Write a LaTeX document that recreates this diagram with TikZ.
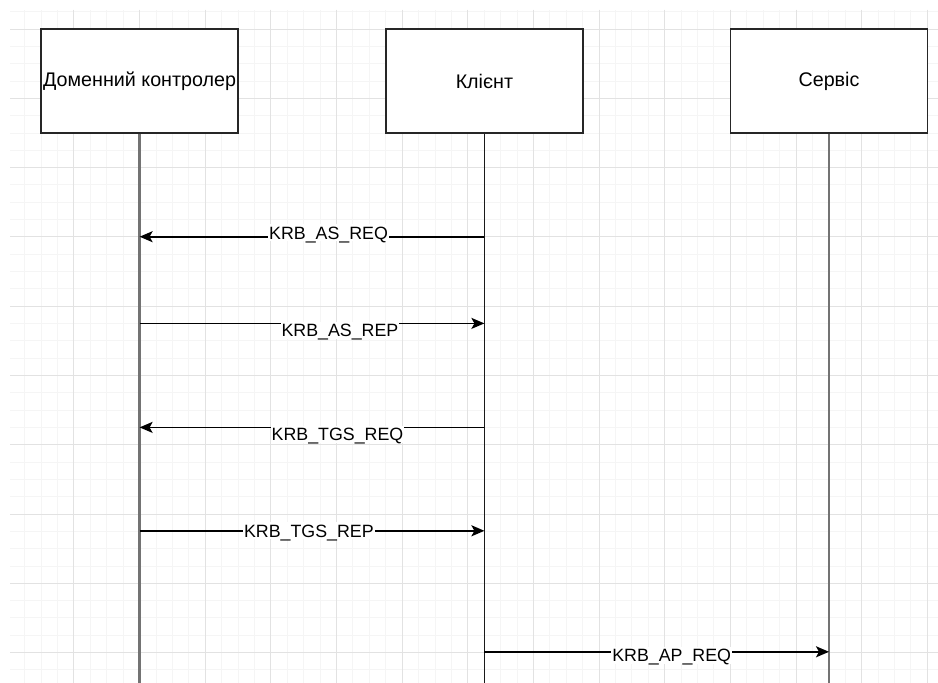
\documentclass[tikz,border=0pt]{standalone}
\usepackage{fontspec}
\setmainfont{Liberation Sans}
\usetikzlibrary{arrows.meta,positioning}
\definecolor{gridminor}{HTML}{F5F5F5}
\definecolor{gridmajor}{HTML}{E2E2E2}

\begin{document}
\begin{tikzpicture}[x=1pt,y=-1pt]
\tikzset{actor/.style={draw=black!85,line width=1.9pt,fill=white,minimum width=197pt,minimum height=104pt,inner sep=0pt,font=\fontsize{19.7}{22}\selectfont},
lifeline/.style={draw=black!55,line width=2.6pt},
msg/.style={draw=black,line width=1.7pt,-{Stealth[length=13pt,width=11pt,inset=3pt]}},
lbl/.style={fill=white,inner xsep=1pt,inner ysep=2pt,text height=12.9pt,text depth=0pt,font=\fontsize{17.8}{20}\selectfont}}
\useasboundingbox (0,0) rectangle (938,683);
\foreach \i in {1,...,56} \draw[gridminor,line width=1pt] ({8.35+16.41*\i},9.5) -- ({8.35+16.41*\i},683);
\foreach \j in {-1,...,37} \draw[gridminor,line width=1pt] (10,{29.1+17.32*\j}) -- (938,{29.1+17.32*\j});
\foreach \i in {1,...,14} \draw[gridmajor,line width=1pt] ({8.35+65.64*\i},9.5) -- ({8.35+65.64*\i},683);
\foreach \j in {0,...,9} \draw[gridmajor,line width=1pt] (10,{29.1+69.28*\j}) -- (938,{29.1+69.28*\j});

\node[actor] (dc) at (139.6,81) {Доменний контролер};
\node[actor] (client) at (484.4,81) {Клієнт};
\node[actor] (service) at (829,81) {Сервіс};
\coordinate (dcend) at (139.6,683);
\coordinate (clientend) at (484.4,683);
\coordinate (serviceend) at (829,683);
\draw[lifeline] (dc) -- (dcend);
\draw[lifeline,draw=black!90,line width=1.7pt] (client) -- (clientend);
\draw[lifeline] (service) -- (serviceend);

\coordinate (asreq) at (0,236.7);
\coordinate (asrep) at (0,323.4);
\coordinate (tgsreq) at (0,427.4);
\coordinate (tgsrep) at (0,530.8);
\coordinate (apreq) at (0,651.8);
\draw[msg] (client |- asreq) -- node[lbl,pos=0.452,yshift=4pt] {KRB\_AS\_REQ} (dc |- asreq);
\draw[msg] (dc |- asrep) -- node[lbl,pos=0.581,yshift=-6.7pt] {KRB\_AS\_REP} (client |- asrep);
\draw[msg] (client |- tgsreq) -- node[lbl,pos=0.426,yshift=-6.7pt] {KRB\_TGS\_REQ} (dc |- tgsreq);
\draw[msg] (dc |- tgsrep) -- node[lbl,pos=0.491] {KRB\_TGS\_REP} (client |- tgsrep);
\draw[msg] (client |- apreq) -- node[lbl,pos=0.5435,yshift=-3.6pt] {KRB\_AP\_REQ} (service |- apreq);
\end{tikzpicture}
\end{document}
